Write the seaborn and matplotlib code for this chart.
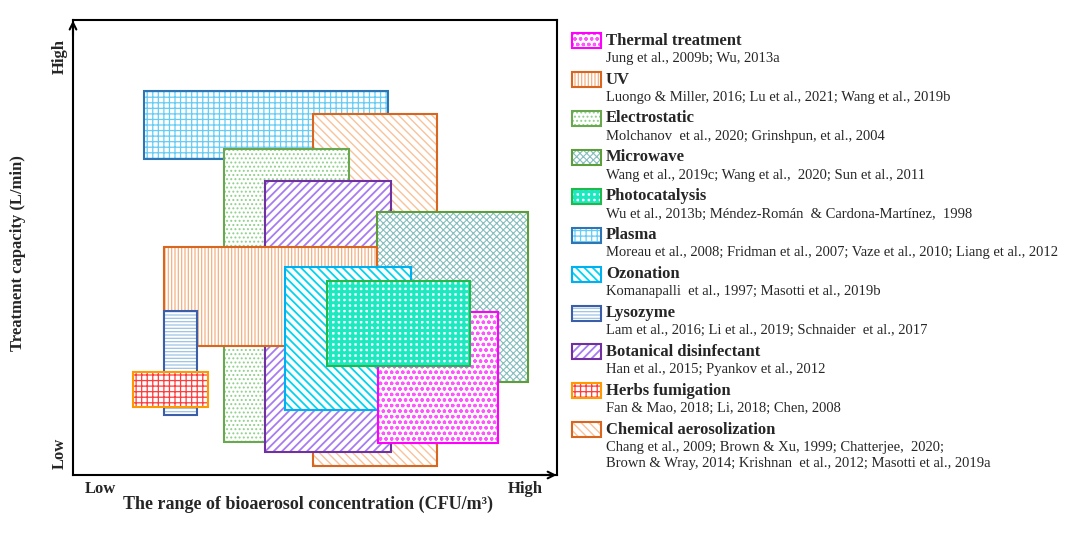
import matplotlib
matplotlib.use("Agg")
import matplotlib.pyplot as plt
from matplotlib.patches import Rectangle
import seaborn as sns

# legend order
methods = ["Thermal treatment", "UV", "Electrostatic", "Microwave", "Photocatalysis",
           "Plasma", "Ozonation", "Lysozyme", "Botanical disinfectant",
           "Herbs fumigation", "Chemical aerosolization"]
citations = [
    ["Jung et al., 2009b; Wu, 2013a"],
    ["Luongo & Miller, 2016; Lu et al., 2021; Wang et al., 2019b"],
    ["Molchanov  et al., 2020; Grinshpun, et al., 2004"],
    ["Wang et al., 2019c; Wang et al.,  2020; Sun et al., 2011"],
    ["Wu et al., 2013b; Méndez-Román  & Cardona-Martínez,  1998"],
    ["Moreau et al., 2008; Fridman et al., 2007; Vaze et al., 2010; Liang et al., 2012"],
    ["Komanapalli  et al., 1997; Masotti et al., 2019b"],
    ["Lam et al., 2016; Li et al., 2019; Schnaider  et al., 2017"],
    ["Han et al., 2015; Pyankov et al., 2012"],
    ["Fan & Mao, 2018; Li, 2018; Chen, 2008"],
    ["Chang et al., 2009; Brown & Xu, 1999; Chatterjee,  2020;",
     "Brown & Wray, 2014; Krishnan  et al., 2012; Masotti et al., 2019a"],
]
# relative range (0 = low, 100 = high)
conc_low = [63.0, 18.8, 31.2, 62.8, 52.5, 14.7, 43.8, 18.8, 39.7, 12.4, 49.6]
conc_high = [87.8, 62.8, 57.0, 94.0, 82.0, 65.1, 69.8, 25.6, 65.7, 27.9, 75.2]
cap_low = [7.0, 28.4, 7.3, 20.4, 24.0, 69.5, 14.3, 13.2, 5.1, 14.9, 2.0]
cap_high = [35.8, 50.1, 71.6, 57.8, 42.6, 84.4, 45.7, 36.0, 64.6, 22.6, 79.3]

# back to front
draw_order = ["Plasma", "Chemical aerosolization", "Electrostatic", "Botanical disinfectant",
              "Microwave", "UV", "Ozonation", "Thermal treatment", "Photocatalysis",
              "Lysozyme", "Herbs fumigation"]

styles = {
    "Thermal treatment": ("#FF00FF", "#FF55FF", "ooo", 0.9),
    "UV": ("#D9661F", "#F4B183", "|||||", 0.9),
    "Electrostatic": ("#6AA84F", "#8FD08A", "....", 0.9),
    "Microwave": ("#5E9E3A", "#86BDBD", "xxxxx", 0.8),
    "Photocatalysis": ("#22B84A", "#1DE9C0", "+++", 2.2),
    "Plasma": ("#2E75B6", "#66CCF5", "+++", 0.9),
    "Ozonation": ("#00B0F0", "#00D4F0", "\\\\\\\\", 1.3),
    "Lysozyme": ("#3A5FA8", "#9DC3E6", "-----", 0.9),
    "Botanical disinfectant": ("#7030A0", "#A77CF0", "////", 1.3),
    "Herbs fumigation": ("#FF9900", "#FF3B3B", "+++", 0.9),
    "Chemical aerosolization": ("#D9661F", "#F8C29A", "\\\\\\\\", 1.0),
}

sns.set_style("white")
plt.rcParams["font.family"] = ["Liberation Serif", "DejaVu Serif"]

fig = plt.figure(figsize=(10.8, 5.33), dpi=100)
W, H = 1080, 533
ax = fig.add_axes([73 / W, 1 - 475 / H, (557 - 73) / W, (475 - 20) / H])


def styled(patch, hatch, hcolor, hlw):
    patch.set_hatch(hatch)
    patch.set_edgecolor(hcolor)
    if hasattr(patch, "set_hatch_linewidth"):
        patch.set_hatch_linewidth(hlw)


for z, name in enumerate(draw_order):
    i = methods.index(name)
    ec, hc, hatch, hlw = styles[name]
    bars = ax.bar(conc_low[i], cap_high[i] - cap_low[i], width=conc_high[i] - conc_low[i],
                  bottom=cap_low[i], align="edge", color="white", linewidth=0,
                  zorder=2 * z + 2)
    styled(bars[0], hatch, hc, hlw)
    ax.bar(conc_low[i], cap_high[i] - cap_low[i], width=conc_high[i] - conc_low[i],
           bottom=cap_low[i], align="edge", fill=False, edgecolor=ec, linewidth=1.5,
           zorder=2 * z + 3)

ax.set_xlim(0, 100)
ax.set_ylim(0, 100)
ax.set_xticks([])
ax.set_yticks([])
for sp in ax.spines.values():
    sp.set_color("black")
    sp.set_linewidth(1.5)

ax.annotate("", xy=(0, 1.005), xytext=(0, 0.96), xycoords="axes fraction",
            arrowprops=dict(arrowstyle="->", lw=1.5, color="black", mutation_scale=12),
            annotation_clip=False, zorder=50)
ax.annotate("", xy=(1.005, 0), xytext=(0.96, 0), xycoords="axes fraction",
            arrowprops=dict(arrowstyle="->", lw=1.5, color="black", mutation_scale=12),
            annotation_clip=False, zorder=50)

fig.text(100 / W, 1 - 489 / H, "Low", ha="center", va="center", fontsize=12, fontweight="bold")
fig.text(525 / W, 1 - 489 / H, "High", ha="center", va="center", fontsize=12, fontweight="bold")
fig.text(308 / W, 1 - 504 / H, "The range of bioaerosol concentration (CFU/m³)",
         ha="center", va="center", fontsize=13, fontweight="bold")
fig.text(60 / W, 1 - 56 / H, "High", ha="center", va="center", rotation=90,
         fontsize=12, fontweight="bold")
fig.text(60 / W, 1 - 453 / H, "Low", ha="center", va="center", rotation=90,
         fontsize=12, fontweight="bold")
fig.text(18 / W, 1 - 253 / H, "Treatment capacity (L/min)", ha="center", va="center",
         rotation=90, fontsize=12, fontweight="bold")

# legend drawn by hand
for i, name in enumerate(methods):
    ec, hc, hatch, hlw = styles[name]
    ty = 40.7 + 38.9 * i
    sw = Rectangle((572 / W, 1 - (ty + 7.5) / H), 29 / W, 15 / H, transform=fig.transFigure,
                   facecolor="white", linewidth=0)
    styled(sw, hatch, hc, hlw)
    fig.patches.append(sw)
    fig.patches.append(Rectangle((572 / W, 1 - (ty + 7.5) / H), 29 / W, 15 / H,
                                 transform=fig.transFigure, fill=False, edgecolor=ec,
                                 linewidth=1.5))
    fig.text(606 / W, 1 - ty / H, name, ha="left", va="center", fontsize=12,
             fontweight="bold")
    for k, line in enumerate(citations[i]):
        fig.text(606 / W, 1 - (ty + 17.7 + 16.6 * k) / H, line, ha="left", va="center",
                 fontsize=10.5)

fig.savefig("out.png", dpi=100)
